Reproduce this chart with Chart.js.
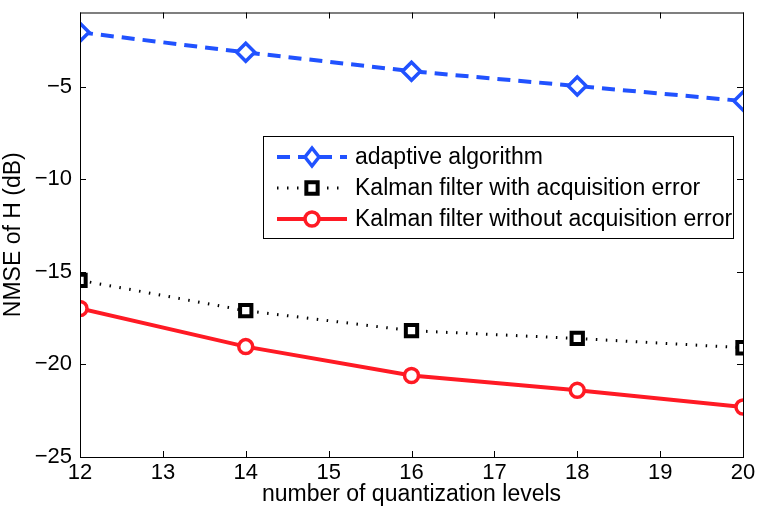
<!DOCTYPE html>
<html>
<head>
<meta charset="utf-8">
<script src="https://cdn.jsdelivr.net/npm/chart.js@4.4.1/dist/chart.umd.min.js"></script>
<style>
  html, body { margin: 0; padding: 0; background: #fff; }
  #wrap { width: 764px; height: 523px; }
</style>
</head>
<body>
<div id="wrap"><canvas id="myChart" width="764" height="523"></canvas></div>
<script>
// values
var levels = [12, 14, 16, 18, 20];
var adaptive = [-2.07, -3.15, -4.17, -4.97, -5.78];
var kalmanWithErr = [-15.46, -17.1, -18.18, -18.6, -19.1];
var kalmanNoErr = [-16.98, -19.04, -20.6, -21.4, -22.3];
var xTicks = [12, 13, 14, 15, 16, 17, 18, 19, 20];
var yTicks = [-25, -20, -15, -10, -5];

var FONT = "'Liberation Sans', Arial, Helvetica, sans-serif";
var BLUE = "#2152ff";
var RED = "#ff1a24";

function pts(vals) {
  return levels.map(function (x, i) { return { x: x, y: vals[i] }; });
}
function minus(v) {
  return String(v).replace("-", "\u2212");
}

// box round the axes plus inward ticks on all four sides (matlab style)
var boxTicks = {
  id: "boxTicks",
  afterDraw: function (chart) {
    var ctx = chart.ctx, a = chart.chartArea;
    var xs = chart.scales.x, ys = chart.scales.y;
    var len = 6;
    ctx.save();
    ctx.strokeStyle = "#000";
    ctx.lineWidth = 1;
    ctx.strokeRect(a.left + 0.5, a.top + 0.5, a.right - a.left, a.bottom - a.top);
    ctx.beginPath();
    xTicks.forEach(function (v) {
      var px = Math.round(xs.getPixelForValue(v)) + 0.5;
      ctx.moveTo(px, a.bottom); ctx.lineTo(px, a.bottom - len);
      ctx.moveTo(px, a.top); ctx.lineTo(px, a.top + len);
    });
    yTicks.forEach(function (v) {
      var py = Math.round(ys.getPixelForValue(v)) + 0.5;
      ctx.moveTo(a.left, py); ctx.lineTo(a.left + len, py);
      ctx.moveTo(a.right, py); ctx.lineTo(a.right - len, py);
    });
    ctx.stroke();
    ctx.restore();
  }
};

function marker(ctx, style, x, y, r) {
  ctx.beginPath();
  if (style === "rectRot") {
    ctx.moveTo(x, y - r); ctx.lineTo(x + r * 0.78, y);
    ctx.lineTo(x, y + r); ctx.lineTo(x - r * 0.78, y); ctx.closePath();
  } else if (style === "rect") {
    var s = r * Math.SQRT1_2;
    ctx.rect(x - s, y - s, 2 * s, 2 * s);
  } else {
    ctx.arc(x, y, r, 0, Math.PI * 2);
  }
  ctx.fill();
  ctx.stroke();
}

// legend box placed inside the axes like the original
var boxLegend = {
  id: "boxLegend",
  afterDraw: function (chart) {
    var ctx = chart.ctx;
    var bx = 263, by = 136, bw = 470, bh = 102;
    var rows = [157, 188, 219];
    ctx.save();
    ctx.fillStyle = "#fff";
    ctx.fillRect(bx, by, bw, bh);
    ctx.strokeStyle = "#000";
    ctx.lineWidth = 1;
    ctx.strokeRect(bx + 0.5, by + 0.5, bw, bh);
    chart.data.datasets.forEach(function (ds, i) {
      var y = rows[i];
      ctx.save();
      ctx.strokeStyle = ds.borderColor;
      ctx.lineWidth = ds.borderWidth;
      ctx.setLineDash(ds.borderDash || []);
      ctx.beginPath();
      ctx.moveTo(277, y); ctx.lineTo(347, y);
      ctx.stroke();
      ctx.setLineDash([]);
      ctx.fillStyle = ds.pointBackgroundColor;
      ctx.strokeStyle = ds.pointBorderColor;
      ctx.lineWidth = ds.pointBorderWidth;
      marker(ctx, ds.pointStyle, 312, y, ds.pointRadius);
      ctx.restore();
      ctx.fillStyle = "#000";
      ctx.font = "23px " + FONT;
      ctx.textBaseline = "middle";
      ctx.fillText(ds.label, 355, y + 1);
    });
    ctx.restore();
  }
};

var ctx = document.getElementById("myChart").getContext("2d");
var chart = new Chart(ctx, {
  type: "line",
  data: {
    datasets: [
      {
        label: "adaptive algorithm",
        data: pts(adaptive),
        borderColor: BLUE,
        borderWidth: 4,
        borderDash: [13, 8],
        pointStyle: "rectRot",
        pointRadius: 9,
        pointBorderWidth: 3.5,
        pointBorderColor: BLUE,
        pointBackgroundColor: "#fff"
      },
      {
        label: "Kalman filter with acquisition error",
        data: pts(kalmanWithErr),
        borderColor: "#000",
        borderWidth: 3,
        borderDash: [1.5, 8.5],
        pointStyle: "rect",
        pointRadius: 8,
        pointBorderWidth: 4,
        pointBorderColor: "#000",
        pointBackgroundColor: "#fff"
      },
      {
        label: "Kalman filter without acquisition error",
        data: pts(kalmanNoErr),
        borderColor: RED,
        borderWidth: 4,
        pointStyle: "circle",
        pointRadius: 7,
        pointBorderWidth: 3.5,
        pointBorderColor: RED,
        pointBackgroundColor: "#fff"
      }
    ]
  },
  options: {
    responsive: false,
    animation: false,
    devicePixelRatio: 1,
    layout: { padding: { top: 9, right: 21, left: 0, bottom: 0 } },
    plugins: {
      legend: { display: false },
      tooltip: { enabled: false }
    },
    elements: { line: { tension: 0, borderCapStyle: "butt" } },
    scales: {
      x: {
        type: "linear",
        min: 12,
        max: 20,
        afterBuildTicks: function (s) {
          s.ticks = xTicks.map(function (v) { return { value: v }; });
        },
        afterFit: function (s) { s.height = 66; },
        grid: { display: false, drawTicks: false },
        border: { display: false },
        ticks: {
          padding: 3,
          color: "#000",
          font: { family: FONT, size: 22 },
          maxRotation: 0
        },
        title: {
          display: true,
          text: "number of quantization levels",
          color: "#000",
          font: { family: FONT, size: 23 },
          padding: { top: 0, bottom: 15 }
        }
      },
      y: {
        type: "linear",
        min: -25,
        max: -1,
        afterBuildTicks: function (s) {
          s.ticks = yTicks.map(function (v) { return { value: v }; });
        },
        afterFit: function (s) {
          s.width = 80;
          s.paddingTop = 0;
          s.paddingBottom = 0;
        },
        grid: { display: false, drawTicks: false },
        border: { display: false },
        ticks: {
          padding: 8,
          color: "#000",
          font: { family: FONT, size: 22 },
          callback: function (v) { return minus(v); }
        },
        title: {
          display: true,
          text: "NMSE of H (dB)",
          color: "#000",
          font: { family: FONT, size: 23 },
          padding: { top: 0, bottom: 0 }
        }
      }
    }
  },
  plugins: [boxTicks, boxLegend]
});
</script>
</body>
</html>
